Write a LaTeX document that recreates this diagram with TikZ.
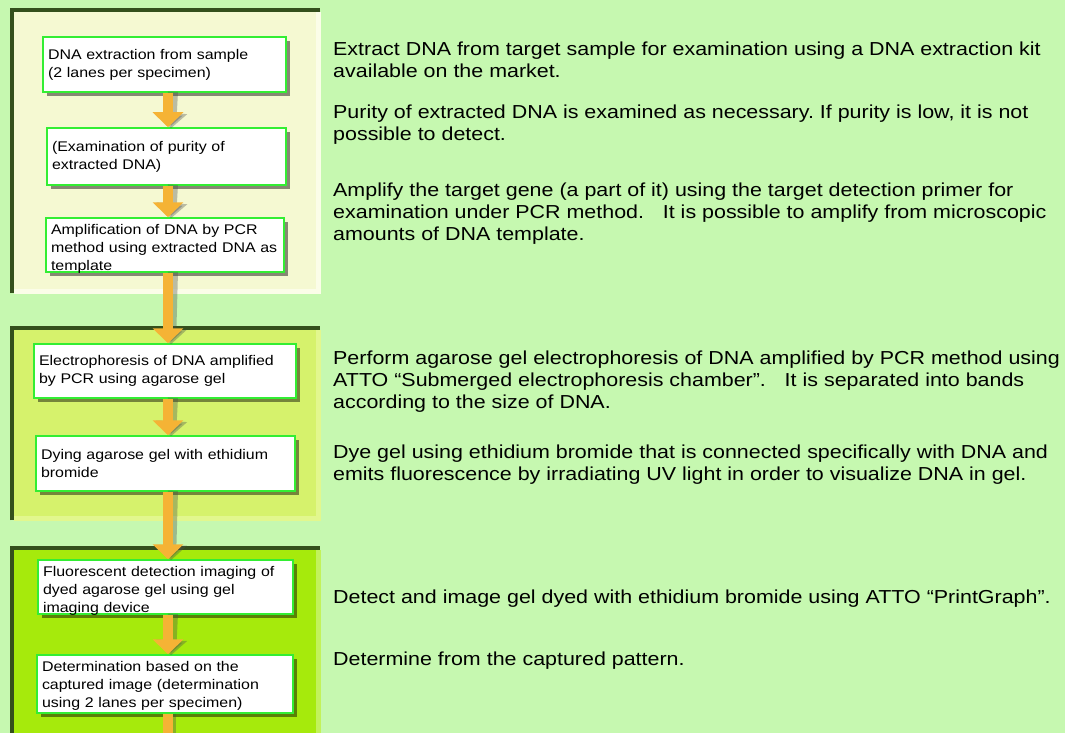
\documentclass[tikz,border=0pt]{standalone}
\usepackage{fontspec}
\setmainfont[FakeStretch=1.14]{Liberation Sans}
\usetikzlibrary{arrows.meta,shadows}
\frenchspacing
\definecolor{bg}{HTML}{C6F8B0}
\definecolor{pone}{HTML}{F5F9D2}
\definecolor{ptwo}{HTML}{D6F26C}
\definecolor{pthree}{HTML}{A6EA0C}
\definecolor{hone}{HTML}{FBFDE8}
\definecolor{htwo}{HTML}{E2F78E}
\definecolor{hthree}{HTML}{C2F25A}
\definecolor{pdark}{HTML}{34501C}
\definecolor{boxline}{HTML}{33EE33}
\definecolor{arrowc}{HTML}{F5B335}
\newcommand\sinktext[3]{\raisebox{-#1}[\height][\depth]{\parbox{#2}{#3}}}
\tikzset{
  stepbox/.style={draw=boxline, line width=1.5pt, fill=white, rectangle,
    inner xsep=5pt, inner ysep=0pt, align=left,
    font=\fontsize{14}{18}\selectfont,
    drop shadow={shadow xshift=4pt, shadow yshift=-4pt, fill=black, opacity=0.45}},
  flow/.style={draw=arrowc, line width=10pt, -{Triangle[width=30pt,length=15pt]}},
  flowshadow/.style={draw=black!70, opacity=0.35, line width=10pt, -{Triangle[width=30pt,length=15pt]}},
  desc/.style={anchor=north west, inner sep=0pt, align=left, font=\fontsize{18.8}{22}\selectfont},
  darkedge/.style={draw=pdark, line width=4pt},
}
\begin{document}
\begin{tikzpicture}[x=1pt,y=-1pt]
\useasboundingbox (0,0) rectangle (1065,733);
\fill[bg] (0,0) rectangle (1065,733);
% panels
\fill[pone] (12,10) rectangle (320,293);
\draw[hone, line width=5pt] (318,12) -- (318,291) -- (14,291);
\draw[darkedge] (12,293) -- (12,10) -- (320,10);
\fill[ptwo] (12,328) rectangle (320,520);
\draw[htwo, line width=5pt] (318,330) -- (318,518) -- (14,518);
\draw[darkedge] (12,520) -- (12,328) -- (320,328);
\fill[pthree] (12,548) rectangle (320,740);
\draw[hthree, line width=5pt] (318,550) -- (318,740);
\draw[darkedge] (12,740) -- (12,548) -- (320,548);
% boxes
\node[stepbox, text width=233pt, minimum height=55pt] (b1) at (164.5,64.5) {DNA extraction from sample\\(2 lanes per specimen)};
\node[stepbox, text width=229pt, minimum height=57pt] (b2) at (166.5,156.5) {(Examination of purity of\\extracted DNA)};
\node[stepbox, text width=228pt, minimum height=54pt] (b3) at (165,245) {\sinktext{4pt}{228pt}{Amplification of DNA by PCR\\method using extracted DNA as\\template}};
\node[stepbox, text width=252pt, minimum height=54pt] (b4) at (165,371) {Electrophoresis of DNA amplified\\by PCR using agarose gel};
\node[stepbox, text width=249pt, minimum height=55pt] (b5) at (165.5,463.5) {Dying agarose gel with ethidium\\bromide};
\node[stepbox, text width=245pt, minimum height=54pt] (b6) at (165.5,587) {\sinktext{4pt}{245pt}{Fluorescent detection imaging of\\dyed agarose gel using gel\\imaging device}};
\node[stepbox, text width=246pt, minimum height=58pt] (b7) at (165,684) {\sinktext{2pt}{246pt}{Determination based on the\\captured image (determination\\using 2 lanes per specimen)}};
\coordinate (end) at (168,750);
% arrows
\foreach \a/\b in {b1/b2,b2/b3,b3/b4,b4/b5,b5/b6,b6/b7}{
  \draw[flowshadow] ([xshift=5pt,yshift=1pt]\a.south -| 168,0) -- ([xshift=3pt,yshift=-1pt]\b.north -| 168,0);
  \draw[flow] (\a.south -| 168,0) -- (\b.north -| 168,0);
}
\draw[draw=black!70, opacity=0.35, line width=10pt] ([xshift=3pt]b7.south -| 168,0) -- ([xshift=3pt]end);
\draw[draw=arrowc, line width=10pt] (b7.south -| 168,0) -- (end);
% descriptions
\node[desc] (t1) at (333,42) {Extract DNA from target sample for examination using a DNA extraction kit\\available on the market.};
\node[desc] (t2) at (333,105) {Purity of extracted DNA is examined as necessary. If purity is low, it is not\\possible to detect.};
\node[desc] (t3) at (333,183) {Amplify the target gene (a part of it) using the target detection primer for\\examination under PCR method.\quad It is possible to amplify from microscopic\\amounts of DNA template.};
\node[desc] (t4) at (333,351) {Perform agarose gel electrophoresis of DNA amplified by PCR method using\\ATTO “Submerged electrophoresis chamber”.\quad It is separated into bands\\according to the size of DNA.};
\node[desc] (t5) at (333,445) {Dye gel using ethidium bromide that is connected specifically with DNA and\\emits fluorescence by irradiating UV light in order to visualize DNA in gel.};
\node[desc] (t6) at (333,590) {Detect and image gel dyed with ethidium bromide using ATTO “PrintGraph”.};
\node[desc] (t7) at (333,652) {Determine from the captured pattern.};
\end{tikzpicture}
\end{document}
